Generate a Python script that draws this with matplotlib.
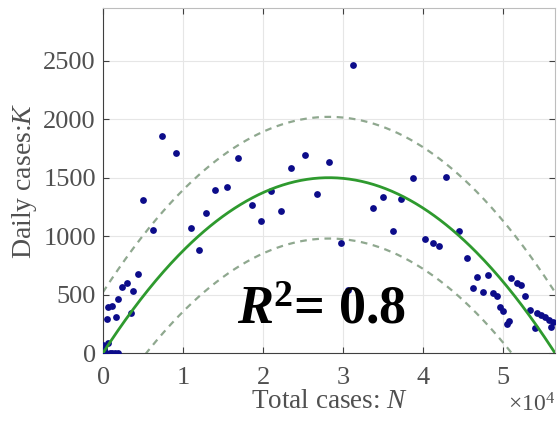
import numpy as np
import matplotlib
matplotlib.use("Agg")
import matplotlib.pyplot as plt
from matplotlib.ticker import ScalarFormatter

plt.rcParams['font.family'] = ['Liberation Serif', 'DejaVu Serif']
plt.rcParams['mathtext.fontset'] = 'custom'
plt.rcParams['mathtext.rm'] = 'Liberation Serif'
plt.rcParams['mathtext.it'] = 'Liberation Serif:italic'
plt.rcParams['mathtext.bf'] = 'Liberation Serif:bold'
plt.rcParams['mathtext.bfit'] = 'Liberation Serif:bold:italic'

# observed points: total cases N vs daily cases K
total_cases = [0, 200, 100, 600, 900, 1500, 1900, 300, 1200,
               500, 700, 1100, 1600, 1900, 2400, 3000, 3500, 3800, 4400,
               5000, 6300, 7400, 9200, 11000, 12000, 12900, 14000, 15500,
               16900, 18600, 19800, 21000, 22300, 23500, 25200, 26800, 28200,
               29800, 30600, 31200, 33700, 35000, 36300, 37300, 38700, 40200,
               41200, 42000, 42900, 44500, 45500, 46300, 46800, 47500, 48100,
               48700, 49200, 49600, 50000, 50500, 50700, 51000, 51700, 52200,
               52800, 53400, 54000, 54200, 54700, 55300, 55700, 56000, 56300]
daily_cases = [69, 26, 40, 83, 3, 0, 0, 10, 0,
               292, 398, 404, 307, 464, 564, 599, 341, 532, 676,
               1306, 1057, 1858, 1709, 1071, 879, 1194, 1394, 1423,
               1666, 1263, 1128, 1386, 1214, 1583, 1690, 1357, 1638,
               942, 540, 2465, 1237, 1337, 1048, 1314, 1495, 977,
               942, 919, 1506, 1042, 813, 555, 650, 527, 664,
               513, 490, 398, 361, 249, 275, 641, 599, 584,
               490, 369, 212, 341, 326, 312, 283, 226, 269]

# logistic-type fit K = r*N*(1 - N/Nmax) and its band
fit_r = 0.1062
fit_nmax = 56500
band = 520

n = np.linspace(0, fit_nmax, 300)
k_fit = fit_r * n * (1 - n / fit_nmax)

fig = plt.figure(figsize=(5.59, 4.25), dpi=100)
ax = fig.add_axes([0.184, 0.169, 0.809, 0.812])

ax.grid(True, color='#e6e6e6', linewidth=0.8)
ax.set_axisbelow(True)

ax.scatter(total_cases, daily_cases, s=24, color='#0c0c8a', zorder=3, linewidths=0)
ax.plot(n, k_fit, color='#2e9a2e', linewidth=2, zorder=4)
ax.plot(n, k_fit + band, color='#8fa88f', linestyle=(0, (3, 2.5)), linewidth=1.6, zorder=2)
ax.plot(n, k_fit - band, color='#8fa88f', linestyle=(0, (3, 2.5)), linewidth=1.6, zorder=2)

ax.set_xlim(0, 56500)
ax.set_ylim(0, 2950)
ax.set_xticks([0, 10000, 20000, 30000, 40000, 50000])
ax.set_yticks([0, 500, 1000, 1500, 2000, 2500])
fmt = ScalarFormatter(useMathText=True)
fmt.set_powerlimits((0, 0))
ax.xaxis.set_major_formatter(fmt)
ax.xaxis.get_offset_text().set_fontsize(17)
ax.xaxis.get_offset_text().set_color('#505050')

ax.tick_params(direction='in', top=True, right=True, labelsize=19,
               labelcolor='#505050', color='#404040', length=4)
ax.tick_params(axis='x', pad=10)
ax.tick_params(axis='y', pad=5)
for side in ['left', 'bottom']:
    ax.spines[side].set_color('#404040')
for side in ['top', 'right']:
    ax.spines[side].set_color('#bdbdbd')

ax.set_xlabel('Total cases: $N$', fontsize=19.5, color='#505050', labelpad=0)
ax.set_ylabel('Daily cases:$K$', fontsize=20, color='#505050', labelpad=3)

ax.text(0.296, 0.087, r'$\mathbfit{R}^{\mathbf{2}}$= 0.8', transform=ax.transAxes,
        fontsize=39, fontweight='bold', color='black', zorder=5)

fig.savefig('out.png', dpi=100)
